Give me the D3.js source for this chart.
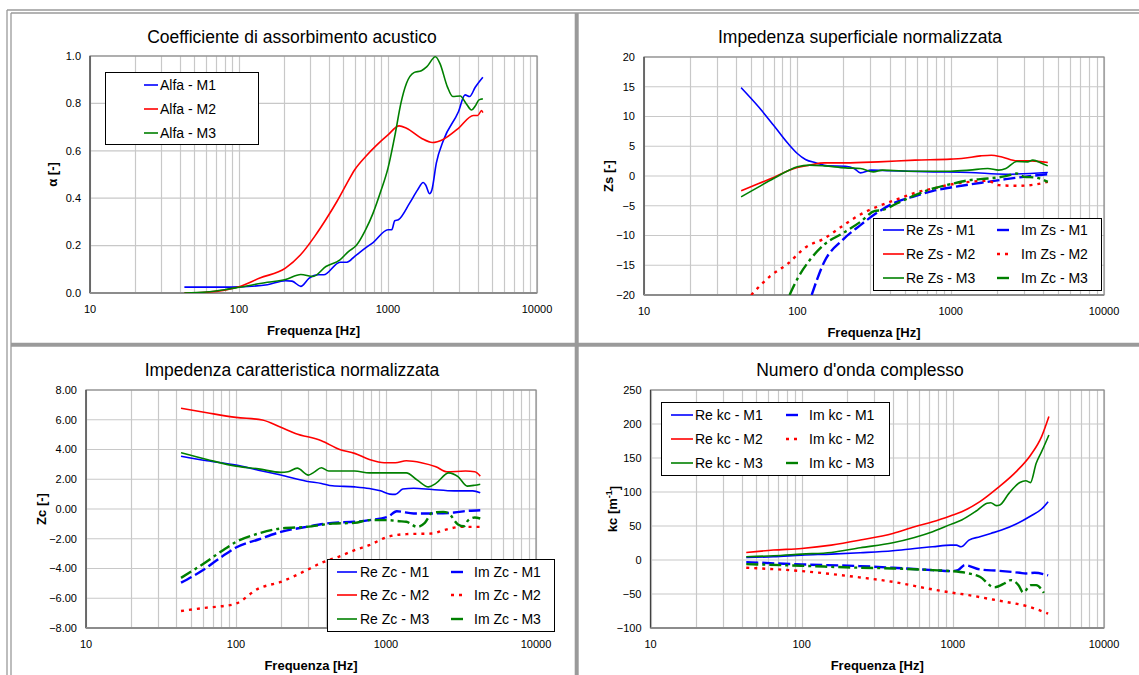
<!DOCTYPE html>
<html>
<head>
<meta charset="utf-8">
<script src="https://cdn.jsdelivr.net/npm/d3@7"></script>
<style>
html,body{margin:0;padding:0;background:#fff;}
svg{display:block;font-family:"Liberation Sans",Arial,sans-serif;}
</style>
</head>
<body>
<svg id="chart" width="1139" height="675"></svg>
<script>
// ---------------- DATA ----------------
const xTickLabels = [10, 100, 1000, 10000];

// Panel 1 : alpha
const alphaYTicks = [0, 0.2, 0.4, 0.6, 0.8, 1.0];
const alphaM1F = [43,60,80,100,155,205,227,260,296,340,370,476,530,598,689,794,1000,1060,1110,1174,1400,1580,1723,1790,1900,1970,2110,2360,2970,3290,3530,3850,4330];
const alphaM1  = [0.025,0.025,0.025,0.026,0.035,0.052,0.05,0.028,0.063,0.077,0.077,0.13,0.13,0.155,0.185,0.213,0.267,0.267,0.305,0.309,0.38,0.435,0.466,0.456,0.419,0.435,0.548,0.646,0.765,0.836,0.829,0.868,0.91];
const alphaM2F = [43,60,80,100,138,205,258,323,383,454,523,598,708,843,1000,1187,1331,1675,1985,2360,2970,3740,4000,4250,4330];
const alphaM2  = [0,0.003,0.012,0.026,0.063,0.105,0.16,0.24,0.31,0.386,0.456,0.52,0.576,0.625,0.667,0.705,0.695,0.653,0.635,0.649,0.695,0.749,0.749,0.77,0.761];
const alphaM3F = [43,60,80,100,155,205,260,314,383,476,545,612,708,794,893,1000,1120,1220,1331,1493,1675,1824,2080,2230,2500,2720,3055,3340,3640,3850,4080,4330];
const alphaM3  = [0,0.004,0.014,0.024,0.045,0.057,0.078,0.07,0.112,0.14,0.176,0.2,0.267,0.337,0.428,0.527,0.674,0.80,0.885,0.93,0.938,0.955,0.997,0.969,0.871,0.829,0.831,0.80,0.772,0.789,0.815,0.819];

// Panel 2 : Zs
const zsYTicks = [-20, -15, -10, -5, 0, 5, 10, 15, 20];
const reZsM1F = [43,56,70,87,100,113,133,157,206,235,258,304,400,769,1327,2290,4300];
const reZsM1  = [14.85,11.6,8.53,5.45,3.78,2.77,2.2,1.7,1.65,1.26,0.53,0.98,0.87,0.7,0.59,0.3,0.59];
const reZsM2F = [43,56,70,87,100,120,150,206,339,586,1000,1178,1564,1840,2160,2700,3360,4300];
const reZsM2  = [-2.49,-1.26,-0.25,0.87,1.43,1.82,2.21,2.21,2.38,2.66,2.83,2.94,3.38,3.5,3.2,2.55,2.55,2.27];
const reZsM3F = [43,56,70,87,100,120,150,206,258,313,358,586,1000,1327,1745,2055,2290,2700,3175,3430,3953,4300];
const reZsM3  = [-3.5,-1.82,-0.42,0.87,1.54,1.82,1.7,1.37,1.26,0.7,0.98,0.81,0.81,0.98,1.26,0.98,1.26,2.43,2.38,2.66,2.1,1.7];
const imZsM1F = [124,150,197,258,339,445,586,769,1000,1327,1745,2290,3010,4300];
const imZsM1  = [-20,-14.4,-10.77,-8.25,-6.0,-4.34,-3.38,-2.49,-1.93,-1.43,-0.98,-0.53,-0.14,0.31];
const imZsM2F = [50,66,87,113,150,197,258,339,445,586,769,1000,1327,1745,2055,2700,3550,4300];
const imZsM2  = [-20,-16.9,-14.7,-12,-10.5,-8.4,-6.46,-5.06,-3.94,-2.83,-2.1,-1.43,-0.98,-0.81,-1.54,-1.65,-1.43,-0.98];
const imZsM3F = [89,102,120,150,197,258,321,358,445,586,769,1000,1327,1745,2290,2700,3010,3550,4300];
const imZsM3  = [-20,-16.9,-14.2,-11.5,-9.65,-7.7,-5.85,-5.73,-4.62,-3.22,-2.1,-1.37,-0.7,-0.42,-0.03,0.42,-0.14,-0.25,-0.98];

// Panel 3 : Zc
const zcYTicks = [-8, -6, -4, -2, 0, 2, 4, 6, 8];
const reZcM1F = [43,64,100,141,199,295,371,439,618,774,918,1060,1155,1295,1530,2030,2850,3790,4250];
const reZcM1  = [3.55,3.24,2.95,2.61,2.28,1.87,1.72,1.56,1.49,1.38,1.22,1.0,0.98,1.34,1.40,1.31,1.22,1.22,1.09];
const reZcM2F = [43,64,100,150,199,249,371,491,618,774,973,1155,1365,1720,2150,2550,3390,3910,4250];
const reZcM2  = [6.77,6.47,6.16,5.98,5.49,5.08,4.59,4.0,3.74,3.33,3.11,3.11,3.24,3.11,2.84,2.5,2.55,2.5,2.21];
const reZcM3F = [43,64,100,141,199,222,256,304,330,371,415,618,774,1028,1365,1618,1920,2150,2620,3020,3480,3910,4250];
const reZcM3  = [3.78,3.33,2.88,2.7,2.46,2.5,2.75,2.28,2.46,2.77,2.55,2.55,2.43,2.43,2.43,1.94,1.49,1.72,2.43,2.17,1.54,1.6,1.67];
const imZcM1F = [43,60,80,100,141,199,295,439,618,774,1028,1180,1530,2030,2850,3540,4250];
const imZcM1  = [-4.95,-4.12,-3.22,-2.59,-2.05,-1.54,-1.2,-0.93,-0.86,-0.75,-0.53,-0.15,-0.3,-0.3,-0.24,-0.12,-0.08];
const imZcM2F = [43,64,80,100,141,199,295,371,491,618,774,1028,1365,2030,2410,3200,4250];
const imZcM2  = [-6.86,-6.63,-6.54,-6.36,-5.35,-4.9,-4.12,-3.62,-3.18,-2.77,-2.43,-1.87,-1.69,-1.65,-1.43,-1.2,-1.2];
const imZcM3F = [43,60,80,100,141,199,295,439,618,774,1028,1220,1365,1618,1815,2030,2410,2620,3020,3300,3540,3910,4250];
const imZcM3  = [-4.63,-3.71,-2.84,-2.21,-1.65,-1.31,-1.2,-0.98,-0.93,-0.75,-0.75,-0.82,-0.86,-1.2,-0.93,-0.26,-0.19,-0.3,-1.04,-1.16,-0.75,-0.57,-0.64];

// Panel 4 : kc
const kcYTicks = [-100, -50, 0, 50, 100, 150, 200, 250];
const reKcM1F = [43,65,100,157,244,401,558,736,970,1055,1133,1278,1510,1782,2100,2625,3275,3865,4270];
const reKcM1  = [3.8,4.8,7.2,8.7,10.7,13.6,17,19.5,21.9,21.9,19.5,29.3,34.2,39.1,44,52.9,64.7,75,85.8];
const reKcM2F = [43,65,100,157,244,401,558,736,970,1145,1510,1990,2625,3275,3865,4320];
const reKcM2  = [11.1,14.6,17,21.9,29.3,39.1,49,56.3,65.2,71,85.8,106.4,130,154.5,181.5,211];
const reKcM3F = [43,65,100,157,244,401,558,736,970,1145,1428,1686,1782,1940,2046,2350,2775,3040,3260,3560,3865,4320];
const reKcM3  = [4.8,6.2,8.7,11.1,18,25.4,33.2,41.6,52.4,58.8,72,83.3,84.3,80,80.9,98,114,116.6,113.8,142.2,159.3,183.9];
const imKcM1F = [43,100,244,401,736,970,1080,1200,1510,1990,2775,3040,3470,4270];
const imKcM1  = [-3.1,-6.5,-9,-11.4,-14.9,-16.3,-14.9,-7.5,-13.9,-15.8,-18.8,-19.8,-18.8,-22.7];
const imKcM2F = [43,100,244,401,736,970,1278,1686,2230,3040,4270];
const imKcM2  = [-11.4,-16.3,-25.7,-32.1,-43.3,-47.8,-51.7,-56.6,-61.5,-67.4,-78.7];
const imKcM3F = [43,100,244,401,736,970,1278,1510,1880,2230,2420,2720,2920,3275,3560,4000];
const imKcM3  = [-6,-8.5,-11.4,-12.4,-14.9,-16.3,-19.8,-24.6,-40.3,-33.6,-29.6,-37,-47.8,-37,-37,-48.4];

// ---------------- STYLES ----------------
const BLUE = "#0000ff", RED = "#ff0000", GREEN = "#008000";
const ST = {
  re1: {color: BLUE, dash: null, w: 1.6},
  re2: {color: RED, dash: null, w: 1.6},
  re3: {color: GREEN, dash: null, w: 1.6},
  im1: {color: BLUE, dash: "12,4", w: 2.4},
  im2: {color: RED, dash: "3,5", w: 2.4},
  im3: {color: GREEN, dash: "12,4,3,4", w: 2.4}
};
const svg = d3.select("#chart");

// ---------------- FRAME ----------------
const frame = svg.append("g").attr("stroke", "#9a9a9a").attr("fill", "none");
frame.append("line").attr("x1", 7).attr("y1", 10).attr("x2", 1139).attr("y2", 10).attr("stroke-width", 1.3);
frame.append("line").attr("x1", 11).attr("y1", 13).attr("x2", 1139).attr("y2", 13).attr("stroke-width", 1.3);
frame.append("line").attr("x1", 7).attr("y1", 10).attr("x2", 7).attr("y2", 675).attr("stroke-width", 1.3);
frame.append("line").attr("x1", 11).attr("y1", 13).attr("x2", 11).attr("y2", 675).attr("stroke-width", 1.3);
frame.append("line").attr("x1", 576.7).attr("y1", 13).attr("x2", 576.7).attr("y2", 675).attr("stroke-width", 4);
frame.append("line").attr("x1", 11).attr("y1", 344.7).attr("x2", 1139).attr("y2", 344.7).attr("stroke-width", 4);

// ---------------- PANEL ----------------
let clipId = 0;
function drawPanel(cfg) {
  const g = svg.append("g");
  const x = d3.scaleLog().domain([10, 10000]).range([cfg.x0, cfg.x1]);
  const y = d3.scaleLinear().domain([cfg.yTicks[0], cfg.yTicks[cfg.yTicks.length - 1]]).range([cfg.y1, cfg.y0]);

  const gridX = [];
  for (let d = 10; d < 10000; d *= 10) for (let k = 1; k < 10; k++) gridX.push(d * k);
  gridX.push(10000);
  g.append("g").selectAll("line").data(gridX).join("line")
    .attr("x1", d => Math.round(x(d)) + 0.5).attr("x2", d => Math.round(x(d)) + 0.5)
    .attr("y1", cfg.y0).attr("y2", cfg.y1)
    .attr("stroke", "#c8c8c8").attr("stroke-width", 1.2);
  g.append("g").selectAll("line").data(cfg.yTicks).join("line")
    .attr("x1", cfg.x0).attr("x2", cfg.x1)
    .attr("y1", d => y(d)).attr("y2", d => y(d))
    .attr("stroke", "#c8c8c8").attr("stroke-width", 1.2);
  g.append("rect").attr("x", cfg.x0).attr("y", cfg.y0)
    .attr("width", cfg.x1 - cfg.x0).attr("height", cfg.y1 - cfg.y0)
    .attr("fill", "none").attr("stroke", "#8c8c8c").attr("stroke-width", 1.2);
  g.append("line").attr("x1", cfg.x0).attr("x2", cfg.x0).attr("y1", cfg.y0).attr("y2", cfg.y1)
    .attr("stroke", "#404040").attr("stroke-width", 1.2);
  g.append("line").attr("x1", cfg.x0).attr("x2", cfg.x1).attr("y1", cfg.y1).attr("y2", cfg.y1)
    .attr("stroke", "#8c8c8c").attr("stroke-width", 1.8);

  g.append("g").selectAll("text").data(cfg.yTicks).join("text")
    .attr("x", cfg.x0 - 9).attr("y", d => y(d)).attr("dy", "0.35em")
    .attr("text-anchor", "end").attr("font-size", 11).attr("fill", "#000")
    .text(d => cfg.fmt(d));
  g.append("g").selectAll("text").data(xTickLabels).join("text")
    .attr("x", d => x(d)).attr("y", cfg.y1 + 20)
    .attr("text-anchor", "middle").attr("font-size", 11).attr("fill", "#000")
    .text(d => d);

  g.append("text").attr("x", cfg.titleX).attr("y", cfg.titleY)
    .attr("text-anchor", "middle").attr("font-size", 17.5).attr("fill", "#000").text(cfg.title);
  g.append("text").attr("x", (cfg.x0 + cfg.x1) / 2).attr("y", cfg.y1 + 42)
    .attr("text-anchor", "middle").attr("font-size", 13).attr("font-weight", "bold").text("Frequenza [Hz]");
  const yl = g.append("text")
    .attr("transform", `translate(${cfg.yLabelX},${(cfg.y0 + cfg.y1) / 2}) rotate(-90)`)
    .attr("text-anchor", "middle").attr("dy", "0.35em")
    .attr("font-size", 13).attr("font-weight", "bold");
  cfg.yLabel(yl);

  const cid = "clip" + (clipId++);
  svg.append("clipPath").attr("id", cid).append("rect")
    .attr("x", cfg.x0).attr("y", cfg.y0 - 2).attr("width", cfg.x1 - cfg.x0).attr("height", cfg.y1 - cfg.y0 + 2);

  const line = d3.line().x(d => x(d[0])).y(d => y(d[1])).curve(d3.curveMonotoneX);
  const lg = g.append("g").attr("clip-path", `url(#${cid})`);
  cfg.series.forEach(s => {
    const pts = s.f.map((f, i) => [f, s.v[i]]);
    lg.append("path").attr("d", line(pts))
      .attr("fill", "none").attr("stroke", s.st.color).attr("stroke-width", s.st.w)
      .attr("stroke-dasharray", s.st.dash).attr("stroke-linejoin", "round");
  });

  const L = cfg.legend;
  const leg = g.append("g");
  leg.append("rect").attr("x", L.x0 + 0.5).attr("y", L.y0 + 0.5)
    .attr("width", L.x1 - L.x0).attr("height", L.y1 - L.y0)
    .attr("fill", "#fff").attr("stroke", "#000").attr("stroke-width", 1);
  cfg.series.forEach((s, i) => {
    const col = L.cols.length === 1 ? 0 : i % 2;
    const row = L.cols.length === 1 ? i : Math.floor(i / 2);
    const c = L.cols[col];
    const ry = L.rows[row];
    leg.append("line").attr("x1", c.s0).attr("x2", c.s1).attr("y1", ry).attr("y2", ry)
      .attr("stroke", s.st.color).attr("stroke-width", s.st.w).attr("stroke-dasharray", s.st.dash);
    leg.append("text").attr("x", c.t).attr("y", ry).attr("dy", "0.36em")
      .attr("font-size", 14).attr("fill", "#000").text(s.label);
  });
}

// ---------------- PANELS ----------------
drawPanel({
  x0: 90, x1: 537, y0: 56, y1: 293,
  yTicks: alphaYTicks, fmt: d3.format(".1f"),
  title: "Coefficiente di assorbimento acustico", titleX: 292, titleY: 43,
  yLabelX: 52,
  yLabel: t => t.text("α [-]"),
  series: [
    {label: "Alfa - M1", f: alphaM1F, v: alphaM1, st: ST.re1},
    {label: "Alfa - M2", f: alphaM2F, v: alphaM2, st: ST.re2},
    {label: "Alfa - M3", f: alphaM3F, v: alphaM3, st: ST.re3}
  ],
  legend: {x0: 105, y0: 72, x1: 258, y1: 144, rows: [85, 109, 133], cols: [{s0: 144, s1: 158, t: 160}]}
});

drawPanel({
  x0: 644, x1: 1104, y0: 57, y1: 295,
  yTicks: zsYTicks, fmt: d3.format("d"),
  title: "Impedenza superficiale normalizzata", titleX: 860, titleY: 43,
  yLabelX: 608,
  yLabel: t => t.text("Zs [-]"),
  series: [
    {label: "Re Zs - M1", f: reZsM1F, v: reZsM1, st: ST.re1},
    {label: "Im Zs - M1", f: imZsM1F, v: imZsM1, st: ST.im1},
    {label: "Re Zs - M2", f: reZsM2F, v: reZsM2, st: ST.re2},
    {label: "Im Zs - M2", f: imZsM2F, v: imZsM2, st: ST.im2},
    {label: "Re Zs - M3", f: reZsM3F, v: reZsM3, st: ST.re3},
    {label: "Im Zc - M3", f: imZsM3F, v: imZsM3, st: ST.im3}
  ],
  legend: {x0: 873, y0: 218, x1: 1101, y1: 290, rows: [230, 254, 278],
    cols: [{s0: 883, s1: 904, t: 906}, {s0: 997, s1: 1013, t: 1021}]}
});

drawPanel({
  x0: 86, x1: 536, y0: 390, y1: 628,
  yTicks: zcYTicks, fmt: d3.format(".2f"),
  title: "Impedenza caratteristica normalizzata", titleX: 292, titleY: 376,
  yLabelX: 41,
  yLabel: t => t.text("Zc [-]"),
  series: [
    {label: "Re Zc - M1", f: reZcM1F, v: reZcM1, st: ST.re1},
    {label: "Im Zc - M1", f: imZcM1F, v: imZcM1, st: ST.im1},
    {label: "Re Zc - M2", f: reZcM2F, v: reZcM2, st: ST.re2},
    {label: "Im Zc - M2", f: imZcM2F, v: imZcM2, st: ST.im2},
    {label: "Re Zc - M3", f: reZcM3F, v: reZcM3, st: ST.re3},
    {label: "Im Zc - M3", f: imZcM3F, v: imZcM3, st: ST.im3}
  ],
  legend: {x0: 327, y0: 559, x1: 554, y1: 631, rows: [572, 595, 619],
    cols: [{s0: 337, s1: 357, t: 360}, {s0: 451, s1: 467, t: 474}]}
});

drawPanel({
  x0: 650.5, x1: 1104, y0: 390, y1: 628,
  yTicks: kcYTicks, fmt: d3.format("d"),
  title: "Numero d'onda complesso", titleX: 860, titleY: 376,
  yLabelX: 612,
  yLabel: t => { t.append("tspan").text("kc [m"); t.append("tspan").attr("font-size", 9).attr("dy", "-0.5em").text("-1"); t.append("tspan").attr("dy", "0.5em").text("]"); },
  series: [
    {label: "Re kc - M1", f: reKcM1F, v: reKcM1, st: ST.re1},
    {label: "Im kc - M1", f: imKcM1F, v: imKcM1, st: ST.im1},
    {label: "Re kc - M2", f: reKcM2F, v: reKcM2, st: ST.re2},
    {label: "Im kc - M2", f: imKcM2F, v: imKcM2, st: ST.im2},
    {label: "Re kc - M3", f: reKcM3F, v: reKcM3, st: ST.re3},
    {label: "Im kc - M3", f: imKcM3F, v: imKcM3, st: ST.im3}
  ],
  legend: {x0: 661, y0: 402, x1: 889, y1: 475, rows: [415, 439, 463],
    cols: [{s0: 671, s1: 693, t: 695}, {s0: 786, s1: 801, t: 809}]}
});
</script>
</body>
</html>
